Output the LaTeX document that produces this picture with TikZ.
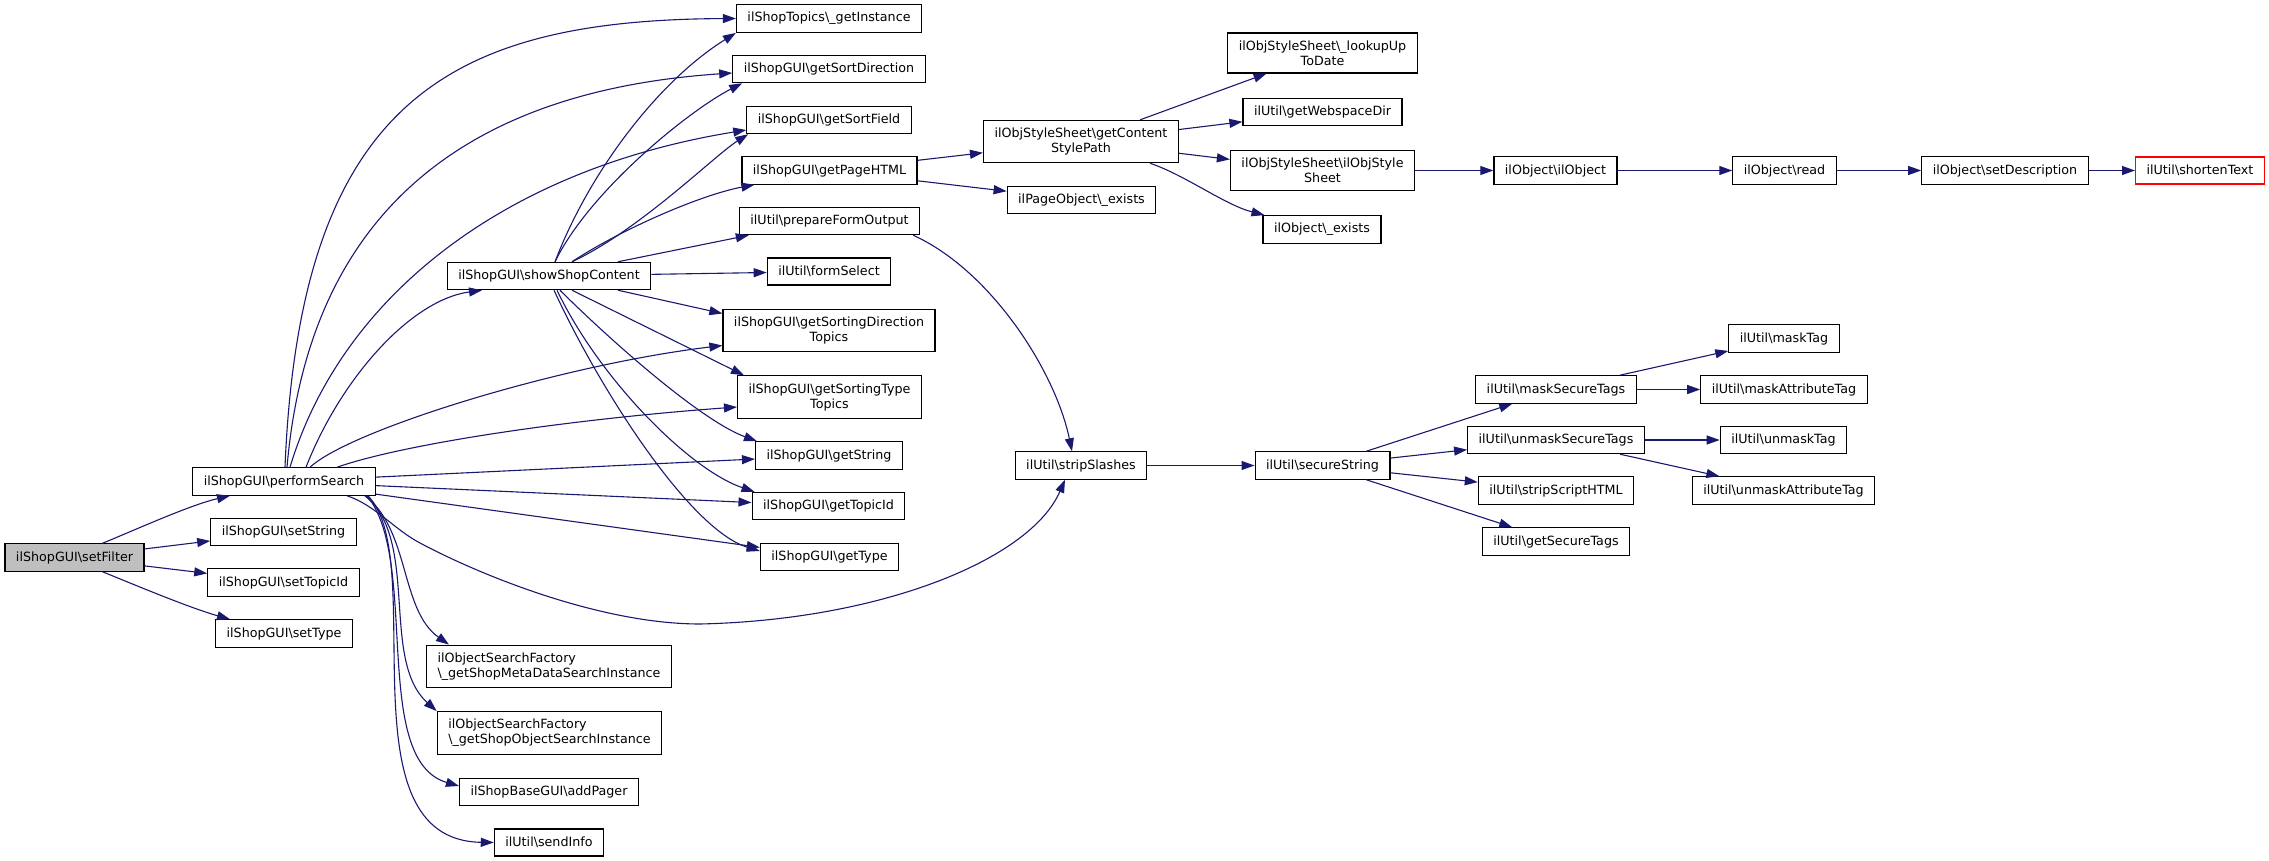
\documentclass[tikz,border=0pt]{standalone}
\usepackage{fontspec}
\setmainfont{DejaVu Sans}
\usetikzlibrary{arrows.meta,calc}
\definecolor{edgeblue}{HTML}{191970}
\definecolor{callerfill}{HTML}{BFBFBF}
\newcommand{\bsl}{\textbackslash}
\tikzstyle{line} = [draw=edgeblue, line width=1.1pt, -{Triangle[length=13pt,width=9pt]}]
\tikzstyle{block} = [draw, rectangle, line width=1.2pt, align=center, inner xsep=11pt, inner ysep=7.5pt, minimum height=27pt, font=\fontsize{12.7pt}{15pt}\selectfont]
\tikzstyle{caller} = [block, fill=callerfill]
\tikzstyle{leaf} = [block, draw=red]

\begin{document}
\begin{tikzpicture}[x=1pt, y=-1pt]
        \useasboundingbox (0,0) rectangle (2269,861);
        % caller and first level
        \node[caller] (setFilter) at (74.5,557.5) {ilShopGUI\bsl setFilter};
        \node[block] (perfSearch) at (284,481.5) {ilShopGUI\bsl performSearch};
        \node[block] (setString) at (283.5,532) {ilShopGUI\bsl setString};
        \node[block] (setTopicId) at (283.5,582.5) {ilShopGUI\bsl setTopicId};
        \node[block] (setType) at (284,633.5) {ilShopGUI\bsl setType};
        % second level
        \node[block] (showContent) at (549,276) {ilShopGUI\bsl showShopContent};
        \node[block, align=left] (metaSearch) at (549,666.5) {ilObjectSearchFactory\\\bsl\_getShopMetaDataSearchInstance};
        \node[block, align=left] (objSearch) at (549.5,733) {ilObjectSearchFactory\\\bsl\_getShopObjectSearchInstance};
        \node[block] (addPager) at (549,792) {ilShopBaseGUI\bsl addPager};
        \node[block] (sendInfo) at (549,842.5) {ilUtil\bsl sendInfo};
        % third level
        \node[block] (topicsInst) at (829,18.5) {ilShopTopics\bsl\_getInstance};
        \node[block] (sortDir) at (829,69) {ilShopGUI\bsl getSortDirection};
        \node[block] (sortField) at (829,120) {ilShopGUI\bsl getSortField};
        \node[block] (pageHTML) at (829.5,170.5) {ilShopGUI\bsl getPageHTML};
        \node[block] (formOutput) at (829.5,221) {ilUtil\bsl prepareFormOutput};
        \node[block] (formSelect) at (829,271.5) {ilUtil\bsl formSelect};
        \node[block] (sortingDir) at (829,330.5) {ilShopGUI\bsl getSortingDirection\\Topics};
        \node[block] (sortingType) at (829.5,397) {ilShopGUI\bsl getSortingType\\Topics};
        \node[block] (getString) at (829,455.5) {ilShopGUI\bsl getString};
        \node[block] (getTopicId) at (828.5,506) {ilShopGUI\bsl getTopicId};
        \node[block] (getType) at (829.5,557) {ilShopGUI\bsl getType};
        % fourth level
        \node[block] (stylePath) at (1081,141.5) {ilObjStyleSheet\bsl getContent\\StylePath};
        \node[block] (pageExists) at (1081.5,200) {ilPageObject\bsl\_exists};
        \node[block] (stripSlashes) at (1081,465.5) {ilUtil\bsl stripSlashes};
        \node[block] (lookupDate) at (1322.5,53) {ilObjStyleSheet\bsl\_lookupUp\\ToDate};
        \node[block] (webspaceDir) at (1322.5,112) {ilUtil\bsl getWebspaceDir};
        \node[block] (styleSheet) at (1322.5,170.5) {ilObjStyleSheet\bsl ilObjStyle\\Sheet};
        \node[block] (objExists) at (1322,229.5) {ilObject\bsl\_exists};
        \node[block] (secureString) at (1322.5,465.5) {ilUtil\bsl secureString};
        % right part
        \node[block] (objCtor) at (1555.5,170.5) {ilObject\bsl ilObject};
        \node[block] (objRead) at (1784.5,170.5) {ilObject\bsl read};
        \node[block] (setDesc) at (2005,170.5) {ilObject\bsl setDescription};
        \node[leaf] (shortenText) at (2200,170.5) {ilUtil\bsl shortenText};
        \node[block] (maskSecure) at (1556,389.5) {ilUtil\bsl maskSecureTags};
        \node[block] (unmaskSecure) at (1556,440) {ilUtil\bsl unmaskSecureTags};
        \node[block] (stripScript) at (1556,490.5) {ilUtil\bsl stripScriptHTML};
        \node[block] (getSecure) at (1556,541.5) {ilUtil\bsl getSecureTags};
        \node[block] (maskTag) at (1784,338.5) {ilUtil\bsl maskTag};
        \node[block] (maskAttr) at (1784,389.5) {ilUtil\bsl maskAttributeTag};
        \node[block] (unmaskTag) at (1783.5,440) {ilUtil\bsl unmaskTag};
        \node[block] (unmaskAttr) at (1783.5,490.5) {ilUtil\bsl unmaskAttributeTag};
        % calls of setFilter
        \path[line] ($(setFilter.north)+(28,0)$) .. controls (135,530) and (190,505) .. ($(perfSearch.south)+(-54,0)$);
        \path[line] (setFilter) -- (setString);
        \path[line] (setFilter) -- (setTopicId);
        \path[line] ($(setFilter.south)+(28,0)$) .. controls (135,585) and (190,608) .. ($(setType.north)+(-54,0)$);
        % calls of performSearch
        \path[line] ($(perfSearch.north)+(1,0)$) .. controls (300,100) and (450,20) .. (topicsInst.west);
        \path[line] ($(perfSearch.north)+(3,0)$) .. controls (310,200) and (480,90) .. ($(sortDir.west)+(0,4)$);
        \path[line] ($(perfSearch.north)+(6,0)$) .. controls (340,300) and (500,170) .. ($(sortField.west)+(0,10)$);
        \path[line] ($(perfSearch.north)+(22,0)$) .. controls (340,380) and (410,300) .. ($(showContent.south)+(-67,0)$);
        \path[line] ($(perfSearch.north)+(26,0)$) .. controls (350,430) and (560,365) .. ($(sortingDir.west)+(0,15)$);
        \path[line] ($(perfSearch.north)+(53,0)$) .. controls (400,445) and (560,420) .. ($(sortingType.west)+(0,10)$);
        \path[line] (perfSearch) -- (getString);
        \path[line] (perfSearch) -- (getTopicId);
        \path[line] (perfSearch) -- (getType);
        \path[line] ($(perfSearch.south)+(63,0)$) .. controls (375,505) and (395,530) .. (420,543)
            .. controls (480,575) and (600,624) .. (700,624)
            .. controls (880,620) and (1030,560) .. ($(stripSlashes.south)+(-16,0)$);
        \path[line] ($(perfSearch.south)+(81,0)$) .. controls (410,530) and (400,610) .. ($(metaSearch.north west)+(23,0)$);
        \path[line] ($(perfSearch.south)+(81,0)$) .. controls (420,540) and (380,660) .. (objSearch.north west);
        \path[line] ($(perfSearch.south)+(83,0)$) .. controls (420,560) and (370,760) .. ($(addPager.west)+(0,-6)$);
        \path[line] ($(perfSearch.south)+(84,0)$) .. controls (430,560) and (340,840) .. (sendInfo.west);
        % calls of showShopContent
        \path[line] ($(showContent.north)+(6,0)$) .. controls (590,170) and (660,80) .. (topicsInst.south west);
        \path[line] ($(showContent.north)+(6,0)$) .. controls (590,190) and (690,110) .. ($(sortDir.south west)+(10,0)$);
        \path[line] ($(showContent.north)+(23,0)$) .. controls (640,230) and (715,155) .. ($(sortField.south west)+(2,0)$);
        \path[line] ($(showContent.north)+(23,0)$) .. controls (620,230) and (700,195) .. ($(pageHTML.south west)+(13,0)$);
        \path[line] ($(showContent.north)+(69,0)$) -- ($(formOutput.south west)+(10,0)$);
        \path[line] (showContent) -- (formSelect);
        \path[line] ($(showContent.south)+(69,0)$) -- ($(sortingDir.west)+(0,-17)$);
        \path[line] ($(showContent.south)+(23,0)$) -- ($(sortingType.north west)+(7,0)$);
        \path[line] ($(showContent.south)+(11,0)$) .. controls (610,340) and (700,420) .. ($(getString.north west)+(2,0)$);
        \path[line] ($(showContent.south)+(8,0)$) .. controls (600,380) and (690,470) .. ($(getTopicId.north west)+(3,0)$);
        \path[line] ($(showContent.south)+(5,0)$) .. controls (600,390) and (690,530) .. ($(getType.west)+(0,-6)$);
        % style sheet branch
        \path[line] (pageHTML) -- (stylePath);
        \path[line] (pageHTML) -- (pageExists);
        \path[line] (stylePath) -- (lookupDate);
        \path[line] (stylePath) -- (webspaceDir);
        \path[line] (stylePath) -- (styleSheet);
        \path[line] ($(stylePath.south)+(69,0)$) .. controls (1185,175) and (1225,205) .. ($(objExists.north west)+(2,0)$);
        \path[line] (styleSheet) -- (objCtor);
        \path[line] (objCtor) -- (objRead);
        \path[line] (objRead) -- (setDesc);
        \path[line] (setDesc) -- (shortenText);
        % secure string branch
        \path[line] ($(formOutput.south east)+(-7,0)$) .. controls (990,270) and (1055,370) .. ($(stripSlashes.north)+(-9,0)$);
        \path[line] (stripSlashes) -- (secureString);
        \path[line] (secureString) -- (maskSecure);
        \path[line] (secureString) -- (unmaskSecure);
        \path[line] (secureString) -- (stripScript);
        \path[line] (secureString) -- (getSecure);
        \path[line] (maskSecure) -- (maskTag);
        \path[line] (maskSecure) -- (maskAttr);
        \path[line] (unmaskSecure) -- (unmaskTag);
        \path[line] (unmaskSecure) -- (unmaskAttr);
    \end{tikzpicture}
\end{document}
